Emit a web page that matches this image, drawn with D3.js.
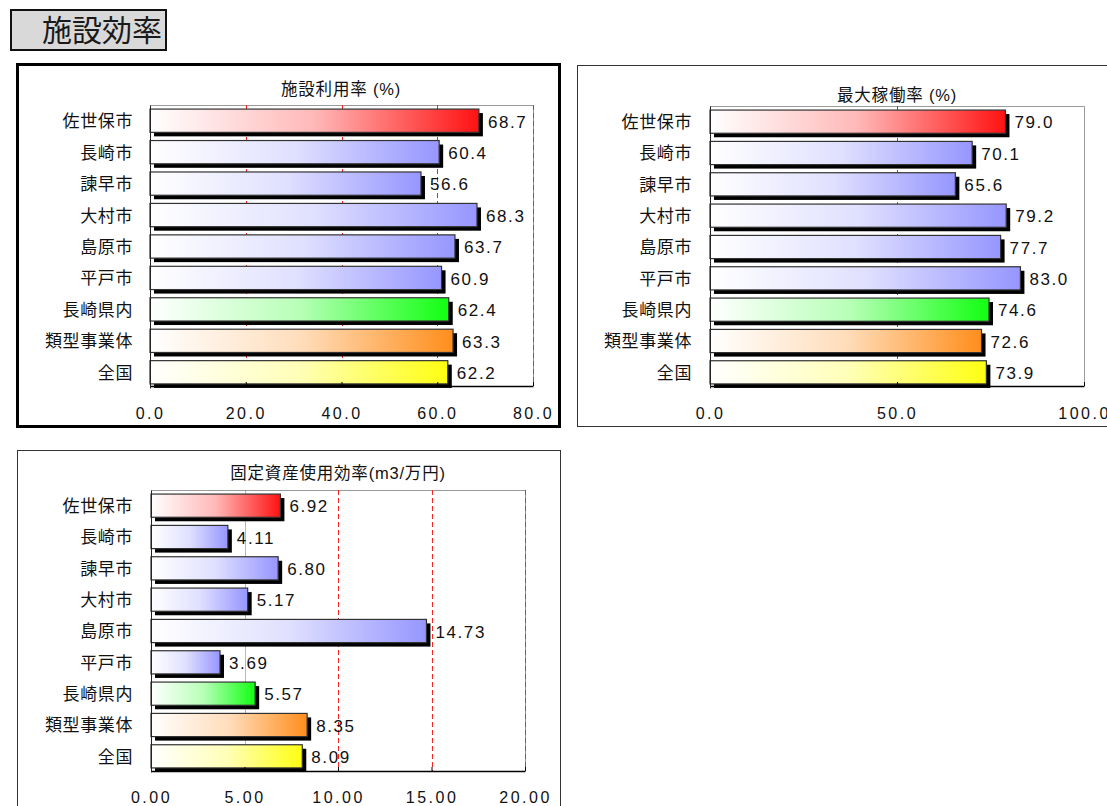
<!DOCTYPE html>
<html>
<head>
<meta charset="utf-8">
<script src="https://cdn.jsdelivr.net/npm/d3@7"></script>
<style>
  body { margin: 0; background: #fff; }
  svg { display: block; }
</style>
</head>
<body>
<svg id="chart" width="1107" height="806"></svg>
<script>
// ---- data ----
const categories = ['佐世保市', '長崎市', '諫早市', '大村市', '島原市', '平戸市', '長崎県内', '類型事業体', '全国'];
const utilizationRate = [68.7, 60.4, 56.6, 68.3, 63.7, 60.9, 62.4, 63.3, 62.2];      // 施設利用率 (%)
const peakOperationRate = [79.0, 70.1, 65.6, 79.2, 77.7, 83.0, 74.6, 72.6, 73.9];    // 最大稼働率 (%)
const assetEfficiency = [6.92, 4.11, 6.80, 5.17, 14.73, 3.69, 5.57, 8.35, 8.09];     // 固定資産使用効率 (m3/万円)
const utilizationTicks = [0, 20, 40, 60, 80];
const peakTicks = [0, 50, 100];
const assetTicks = [0, 5, 10, 15, 20];
const colorGroups = ['red', 'city', 'city', 'city', 'city', 'city', 'green', 'orange', 'yellow'];

// ---- styling ----
const FONT = '"Liberation Sans", Arial, "Noto Sans CJK JP", sans-serif';
const groupColors = { red: '#ff1212', city: '#9696ff', green: '#12ff12', orange: '#ff8e1c', yellow: '#ffff12' };

const svg = d3.select('#chart');
const defs = svg.append('defs');

// horizontal white-to-colour gradient per colour group
Object.entries(groupColors).forEach(([key, col]) => {
  const grad = defs.append('linearGradient').attr('id', 'grad-' + key)
    .attr('x1', 0).attr('y1', 0).attr('x2', 1).attr('y2', 0);
  grad.append('stop').attr('offset', '0%').attr('stop-color', '#ffffff');
  grad.append('stop').attr('offset', '50%').attr('stop-color', d3.interpolateRgb('#ffffff', col)(0.3));
  grad.append('stop').attr('offset', '100%').attr('stop-color', col);
});

// ---- page heading ----
svg.append('rect')
  .attr('x', 11).attr('y', 10).attr('width', 155).attr('height', 40)
  .attr('fill', '#d9d9d9').attr('stroke', '#111').attr('stroke-width', 2);
svg.append('text')
  .attr('x', 42).attr('y', 41)
  .attr('font-family', FONT).attr('font-size', 30).attr('fill', '#1a1a1a')
  .text('施設効率');

function drawPanel(o) {
  const g = svg.append('g');

  g.append('rect')
    .attr('x', o.frame[0]).attr('y', o.frame[1]).attr('width', o.frame[2]).attr('height', o.frame[3])
    .attr('fill', '#fff').attr('stroke', o.frameColor).attr('stroke-width', o.frameWidth);

  const x = d3.scaleLinear().domain([0, o.ticks[o.ticks.length - 1]]).range([o.plot.left, o.plot.right]);
  const y = d3.scaleBand().domain(categories).range([o.plot.top, o.plot.bandBottom])
    .paddingInner(0.26).paddingOuter(0.13);

  // plot-area outline (top & right)
  g.append('path')
    .attr('d', `M${o.plot.left},${o.plot.top + 0.5}H${o.plot.right + 0.5}V${o.plot.bottom}`)
    .attr('fill', 'none').attr('stroke', '#9a9a9a').attr('stroke-width', 1);

  // gridlines
  const gridVals = o.ticks.slice(1, o.dashedEdge ? o.ticks.length : o.ticks.length - 1);
  g.selectAll('line.grid').data(gridVals).join('line')
    .attr('class', 'grid')
    .attr('x1', d => Math.round(x(d)) + 0.5).attr('x2', d => Math.round(x(d)) + 0.5)
    .attr('y1', o.plot.top).attr('y2', o.plot.bottom)
    .attr('stroke', '#ff2020').attr('stroke-width', 1)
    .attr('stroke-opacity', d => (o.faint || []).includes(d) ? 0.45 : 1)
    .attr('stroke-dasharray', d => (o.faint || []).includes(d) ? null : '5,3');

  const rows = categories.map((c, i) => ({ c, v: o.values[i], grp: colorGroups[i] }));
  const bw = y.bandwidth();

  // drop shadows
  g.selectAll('rect.shadow').data(rows).join('rect')
    .attr('class', 'shadow')
    .attr('x', x(0) + 4).attr('y', d => y(d.c) + 4)
    .attr('width', d => x(d.v) - x(0)).attr('height', bw)
    .attr('fill', '#000');

  // bars
  g.selectAll('rect.bar').data(rows).join('rect')
    .attr('class', 'bar')
    .attr('x', x(0)).attr('y', d => y(d.c))
    .attr('width', d => x(d.v) - x(0)).attr('height', bw)
    .attr('fill', d => `url(#grad-${d.grp})`)
    .attr('stroke', '#333').attr('stroke-width', 1.2);

  // value labels
  g.selectAll('text.val').data(rows).join('text')
    .attr('class', 'val')
    .attr('x', d => x(d.v) + 9).attr('y', d => y(d.c) + bw / 2).attr('dy', '0.4em')
    .attr('font-family', FONT).attr('font-size', 17).attr('letter-spacing', '1.6px').attr('fill', '#111')
    .text(d => d3.format(o.fmt)(d.v));

  // x axis
  const xAxis = d3.axisBottom(x).tickValues(o.ticks).tickFormat(d3.format(o.fmt))
    .tickSizeInner(-4).tickSizeOuter(0).tickPadding(o.tickPad);
  g.append('g').attr('transform', `translate(0,${o.plot.bottom})`).call(xAxis)
    .call(a => a.select('.domain').attr('stroke', '#000').attr('stroke-width', 1.5))
    .call(a => a.selectAll('.tick line').attr('stroke', '#000'))
    .call(a => a.selectAll('text')
      .attr('font-family', FONT).attr('font-size', 16).attr('letter-spacing', '2.5px').attr('fill', '#111'));

  // category axis
  const yAxis = d3.axisLeft(y).tickSize(0).tickPadding(o.labelPad);
  g.append('g').attr('transform', `translate(${o.plot.left},0)`).call(yAxis)
    .call(a => a.select('.domain').attr('stroke', '#222').attr('stroke-width', 1))
    .call(a => a.selectAll('text')
      .attr('font-family', FONT).attr('font-size', 17).attr('letter-spacing', '0.6px')
      .attr('dy', '0.38em').attr('fill', '#111'));

  // panel title
  g.append('text')
    .attr('x', o.titleX).attr('y', o.titleY).attr('text-anchor', 'middle')
    .attr('font-family', FONT).attr('font-size', 16.5).attr('letter-spacing', '0.8px').attr('fill', '#111')
    .text(o.title);
}

drawPanel({
  values: utilizationRate, ticks: utilizationTicks, fmt: '.1f', title: '施設利用率 (%)',
  frame: [17.5, 64.5, 542, 362], frameColor: '#000', frameWidth: 3,
  plot: { left: 150, right: 533, top: 105, bottom: 386, bandBottom: 388 },
  titleX: 341, titleY: 95, tickPad: 21.6, labelPad: 17, dashedEdge: true
});

drawPanel({
  values: peakOperationRate, ticks: peakTicks, fmt: '.1f', title: '最大稼働率 (%)',
  frame: [577.5, 65.5, 560, 361], frameColor: '#333', frameWidth: 1,
  plot: { left: 710, right: 1084, top: 106, bottom: 386, bandBottom: 388 },
  titleX: 897, titleY: 101, tickPad: 21.6, labelPad: 18, dashedEdge: false
});

drawPanel({
  values: assetEfficiency, ticks: assetTicks, fmt: '.2f', title: '固定資産使用効率(m3/万円)',
  frame: [17.5, 450.5, 543, 380], frameColor: '#333', frameWidth: 1,
  plot: { left: 151, right: 525, top: 490, bottom: 771, bandBottom: 772 },
  titleX: 338, titleY: 479, tickPad: 20.6, labelPad: 18, dashedEdge: true, faint: [5]
});
</script>
</body>
</html>
